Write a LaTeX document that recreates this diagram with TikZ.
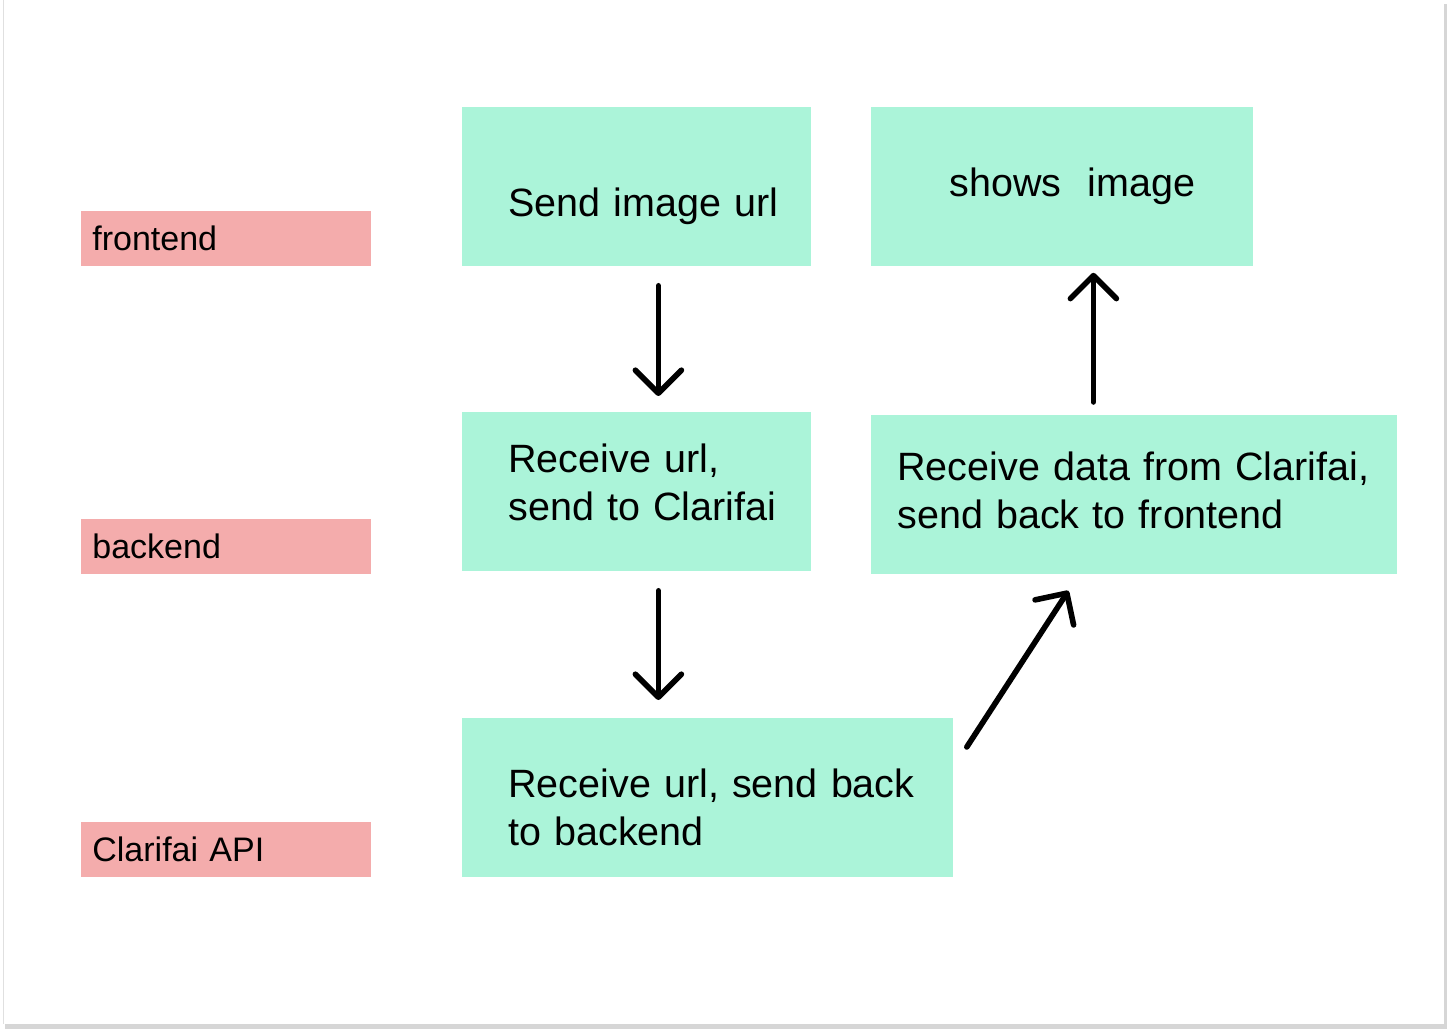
\documentclass[tikz,border=0pt]{standalone}
\usepackage{fontspec}
\setmainfont{Liberation Sans}
\usetikzlibrary{arrows.meta,positioning}

\definecolor{mint}{HTML}{ABF4D9}
\definecolor{blush}{HTML}{F4ACAC}

\hyphenpenalty=10000
\exhyphenpenalty=10000
\hbadness=10000
\hfuzz=40pt

\begin{document}
\begin{tikzpicture}[
        x=0.5pt, y=-0.5pt,
        stepbox/.style={fill=mint, anchor=north west, align=left, inner ysep=0pt,
            minimum height=79.5pt, font=\fontsize{19.75}{24}\selectfont},
        tier/.style={fill=blush, anchor=north west, align=left, inner xsep=5.5pt, inner ysep=0pt,
            minimum width=145pt, minimum height=27.5pt, text width=134pt,
            text height=12pt, text depth=0pt, font=\fontsize{17}{20}\selectfont},
        flow/.style={-{Straight Barb[length=11.5pt, width=23pt, round]}, line width=2.8pt,
            line cap=round, line join=round}
    ]

    \useasboundingbox (0,0) rectangle (1448,1032);

    % page
    \fill[white] (0,0) rectangle (1448,1032);
    \fill[black!16] (5,4) rectangle (1447,1029);
    \fill[white] (3,-2) rectangle (1444,1024);
    \draw[black!12, line width=0.5pt] (3,0) -- (3,1024);

    % Tiers
    \node[tier] (lblfront) at (81,211) {frontend};
    \node[tier] (lblback) at (81,519) {backend};
    \node[tier] (lblapi) at (81,822) {Clarifai API};

    % Nodes
    \node[stepbox, inner xsep=23pt, text width=128.5pt, text height=29.5pt, text depth=0pt]
        (sendurl) at (462,107) {Send~image~url};
    \node[stepbox, inner xsep=39pt, text width=113pt, text height=10pt, text depth=0pt]
        (showimg) at (871,107) {shows~~image};
    \node[stepbox, inner xsep=23pt, text width=128.5pt, text height=0pt, text depth=19.5pt]
        (recvurl) at (462,412) {Receive~url,\\ send~to~Clarifai};
    \node[stepbox, inner xsep=13pt, text width=237pt, text height=0pt, text depth=14.5pt]
        (recvdata) at (871,415) {Receive~data~from~Clarifai,\\ send~back~to~frontend};
    \node[stepbox, inner xsep=23pt, text width=199.5pt, text height=0pt, text depth=0pt]
        (apireply) at (462,718) {Receive~url,~send~back\\ to~backend};

    % Arrows
    \draw[flow] ([shift={(21.5,19)}]sendurl.south) -- ([shift={(21.5,-16)}]recvurl.north);
    \draw[flow] ([shift={(21.5,19)}]recvurl.south) -- ([shift={(-49.5,-18)}]apireply.north);
    \draw[flow] ([shift={(13,29)}]apireply.north east) -- ([shift={(-66,16)}]recvdata.south);
    \draw[flow] ([shift={(-41,-13)}]recvdata.north) -- ([shift={(31,6)}]showimg.south);

\end{tikzpicture}
\end{document}
